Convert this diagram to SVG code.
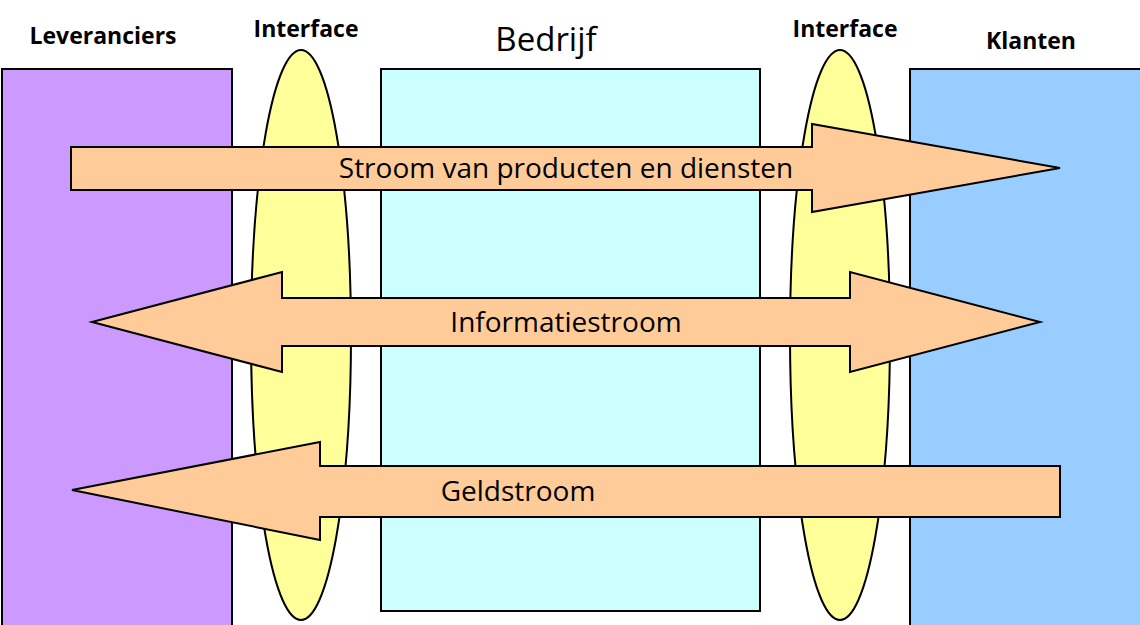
<svg xmlns="http://www.w3.org/2000/svg" width="1140" height="625" viewBox="0 0 1140 625">
<style>
.b{stroke:#000;stroke-width:2}
.h{font-family:"Open Sans","Liberation Sans",sans-serif;font-weight:bold;font-size:23px;text-anchor:middle}
.t{font-family:"Open Sans","Liberation Sans",sans-serif;font-size:28px;text-anchor:middle}
.a{fill:#FFCC99;stroke:#000;stroke-width:2}
</style>
<rect width="1140" height="625" fill="#fff"/>
<g id="leveranciers"><rect class="b" x="2" y="69" width="230" height="570" fill="#CC99FF"/><text class="h" x="103" y="44">Leveranciers</text></g>
<g id="interface-left"><ellipse class="b" cx="301" cy="335" rx="50" ry="285" fill="#FFFF99"/><text class="h" x="306" y="37">Interface</text></g>
<g id="bedrijf"><rect class="b" x="381" y="69" width="379" height="542" fill="#CCFFFF"/><text class="t" x="546" y="51" style="font-size:33px">Bedrijf</text></g>
<g id="interface-right"><ellipse class="b" cx="840" cy="335" rx="50" ry="285" fill="#FFFF99"/><text class="h" x="845" y="37">Interface</text></g>
<g id="klanten"><rect class="b" x="910" y="69" width="240" height="570" fill="#99CCFF"/><text class="h" x="1031" y="49">Klanten</text></g>
<g id="connectors">
<g id="producten"><polygon class="a" points="71,147 812,147 812,124 1060,168 812,212 812,190 71,190"/><text class="t" x="566" y="178">Stroom van producten en diensten</text></g>
<g id="informatie"><polygon class="a" points="92,322 282,272 282,298 850,298 850,272 1040,322 850,372 850,346 282,346 282,372"/><text class="t" x="566" y="332">Informatiestroom</text></g>
<g id="geld"><polygon class="a" points="72,490 320,442 320,466 1060,466 1060,517 320,517 320,540"/><text class="t" x="518" y="501">Geldstroom</text></g>
</g>
</svg>
